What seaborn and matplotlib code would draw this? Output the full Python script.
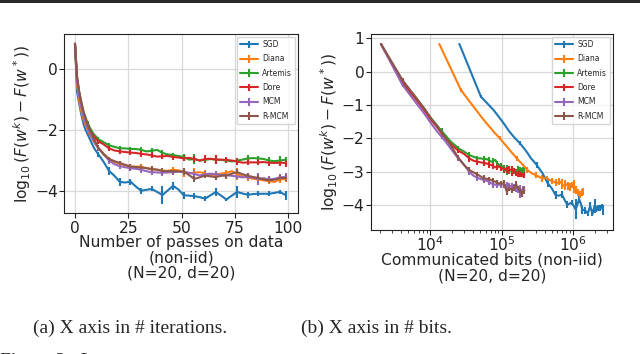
import matplotlib
matplotlib.use("Agg")
import matplotlib.pyplot as plt
import numpy as np
import seaborn as sns
from matplotlib.patches import Rectangle

sns.set_theme(style="ticks", rc={
    "axes.grid": True,
    "grid.color": "#d9d9d9",
    "grid.linewidth": 0.9,
    "axes.edgecolor": "#222222",
    "axes.linewidth": 0.8,
    "xtick.color": "#222222",
    "ytick.color": "#222222",
})
plt.rcParams["font.family"] = ["DejaVu Sans"]
plt.rcParams["mathtext.fontset"] = "dejavusans"

METHODS = ["SGD", "Diana", "Artemis", "Dore", "MCM", "R-MCM"]
COLORS = sns.color_palette("tab10", 6)

# passes on data where the loss was recorded
PASSES = [0, 1, 2, 3, 4, 5, 6, 7, 8, 9, 10, 11,
          13.5, 16, 18.5, 21, 23.5, 26, 28.5, 31, 33.5, 36, 38.5, 41,
          43.5, 46, 48.5, 51, 53.5, 56, 58.5, 61, 63.5, 66, 68.5, 71,
          73.5, 76, 78.5, 81, 83.5, 86, 88.5, 91, 93.5, 96, 99]
# passes that carry an error bar
ERR_AT = [1, 6, 11, 16, 21, 26, 31, 36, 41, 46, 51, 56, 61, 66, 71, 76,
          81, 86, 91, 96, 99]

# bits communicated per pass (non-iid, N=20, d=20)
BITS_SGD = 2.57e4
BITS_DIANA = 1.35e4
BITS_COMPRESSED = 2.07e3

LOSS_SGD = [0.83, -0.75, -1.15, -1.5, -1.8, -2.0, -2.15, -2.3, -2.45, -2.6, -2.7, -2.8,
            -3.05, -3.34, -3.5, -3.7, -3.72, -3.69, -3.85, -3.99, -3.96, -3.93, -4.03, -4.13,
            -3.98, -3.83, -3.95, -4.14, -4.15, -4.17, -4.2, -4.25, -4.14, -4.03, -4.15, -4.28,
            -4.15, -4.03, -4.08, -4.12, -4.1, -4.09, -4.09, -4.09, -4.06, -4.03, -4.14]
LOSS_DIANA = [0.83, -0.55, -1.05, -1.4, -1.65, -1.85, -2.0, -2.15, -2.28, -2.4, -2.5, -2.6,
              -2.78, -2.95, -3.05, -3.1, -3.15, -3.2, -3.2, -3.2, -3.25, -3.28, -3.3, -3.33,
              -3.34, -3.3, -3.32, -3.38, -3.42, -3.4, -3.38, -3.42, -3.49, -3.45, -3.43, -3.4,
              -3.35, -3.45, -3.52, -3.55, -3.6, -3.62, -3.65, -3.68, -3.7, -3.62, -3.6]
LOSS_ARTEMIS = [0.83, -0.3, -0.75, -1.1, -1.4, -1.6, -1.78, -1.92, -2.05, -2.15, -2.22, -2.3,
                -2.4, -2.5, -2.55, -2.6, -2.6, -2.62, -2.62, -2.65, -2.7, -2.68, -2.65, -2.75,
                -2.8, -2.82, -2.85, -2.88, -2.97, -2.95, -3.0, -2.98, -2.95, -2.97, -2.98, -3.0,
                -3.03, -3.0, -2.97, -2.93, -2.92, -2.93, -2.95, -3.0, -3.02, -3.0, -2.97]
LOSS_DORE = [0.83, -0.35, -0.8, -1.15, -1.45, -1.65, -1.85, -2.0, -2.12, -2.22, -2.3, -2.37,
             -2.47, -2.6, -2.67, -2.7, -2.72, -2.74, -2.75, -2.78, -2.8, -2.83, -2.87, -2.86,
             -2.85, -2.88, -2.9, -2.93, -2.91, -2.95, -3.0, -2.95, -2.94, -2.97, -2.97, -2.98,
             -3.0, -3.03, -3.07, -3.06, -3.06, -3.06, -3.05, -3.07, -3.08, -3.07, -3.08]
LOSS_MCM = [0.83, -0.4, -0.9, -1.25, -1.55, -1.78, -1.95, -2.1, -2.25, -2.38, -2.5, -2.6,
            -2.8, -3.0, -3.12, -3.18, -3.22, -3.25, -3.27, -3.3, -3.35, -3.38, -3.39, -3.4,
            -3.39, -3.38, -3.36, -3.38, -3.4, -3.44, -3.49, -3.45, -3.43, -3.45, -3.47, -3.48,
            -3.5, -3.52, -3.55, -3.54, -3.56, -3.6, -3.58, -3.62, -3.6, -3.55, -3.54]
LOSS_RMCM = [0.83, -0.25, -0.75, -1.1, -1.4, -1.62, -1.82, -2.0, -2.15, -2.3, -2.45, -2.58,
             -2.8, -2.95, -3.02, -3.08, -3.14, -3.2, -3.21, -3.23, -3.25, -3.28, -3.3, -3.34,
             -3.35, -3.35, -3.36, -3.36, -3.48, -3.6, -3.55, -3.49, -3.52, -3.54, -3.5, -3.49,
             -3.43, -3.38, -3.45, -3.5, -3.54, -3.57, -3.62, -3.65, -3.63, -3.58, -3.57]

ERR_SGD = [0.05, 0.06, 0.08, 0.12, 0.12, 0.1, 0.1, 0.08, 0.3, 0.12, 0.12,
           0.1, 0.08, 0.12, 0.06, 0.2, 0.1, 0.08, 0.08, 0.06, 0.15]
ERR_DIANA = [0.05, 0.06, 0.08, 0.08, 0.08, 0.1, 0.08, 0.1, 0.1, 0.1, 0.15,
             0.15, 0.12, 0.12, 0.1, 0.2, 0.12, 0.1, 0.1, 0.1, 0.1]
ERR_ARTEMIS = [0.05, 0.08, 0.08, 0.08, 0.08, 0.08, 0.08, 0.1, 0.08, 0.08, 0.08,
               0.15, 0.1, 0.15, 0.08, 0.08, 0.1, 0.08, 0.1, 0.15, 0.08]
ERR_DORE = [0.05, 0.08, 0.08, 0.1, 0.1, 0.08, 0.1, 0.1, 0.1, 0.1, 0.1,
            0.1, 0.12, 0.15, 0.1, 0.1, 0.1, 0.1, 0.1, 0.1, 0.12]
ERR_MCM = [0.05, 0.06, 0.08, 0.1, 0.1, 0.1, 0.1, 0.1, 0.1, 0.1, 0.1,
           0.12, 0.1, 0.12, 0.1, 0.1, 0.1, 0.2, 0.1, 0.12, 0.12]
ERR_RMCM = [0.05, 0.06, 0.08, 0.08, 0.08, 0.1, 0.08, 0.1, 0.1, 0.08, 0.1,
            0.1, 0.08, 0.1, 0.1, 0.1, 0.08, 0.08, 0.1, 0.1, 0.1]

LOSSES = [LOSS_SGD, LOSS_DIANA, LOSS_ARTEMIS, LOSS_DORE, LOSS_MCM, LOSS_RMCM]
ERRORS = [ERR_SGD, ERR_DIANA, ERR_ARTEMIS, ERR_DORE, ERR_MCM, ERR_RMCM]
BITS = [BITS_SGD, BITS_DIANA, BITS_COMPRESSED, BITS_COMPRESSED, BITS_COMPRESSED, BITS_COMPRESSED]

passes = np.array(PASSES, dtype=float)
err_mask = np.isin(passes, ERR_AT)

W, H = 640, 354
fig = plt.figure(figsize=(W / 100, H / 100), dpi=100)
ax1 = fig.add_axes([64.3 / W, 1 - 213.3 / H, 233.4 / W, 179 / H])
ax2 = fig.add_axes([370.7 / W, 1 - 230 / H, 242 / W, 195.7 / H])

FS = 11.2
ylab = r"$\log_{10}(F(w^k) - F(w^*))$"

for name, loss, err, bits, c in zip(METHODS, LOSSES, ERRORS, BITS, COLORS):
    yerr = np.zeros(len(passes))
    yerr[err_mask] = err
    kw = dict(yerr=yerr, errorevery=err_mask, color=c, lw=1.5, elinewidth=1.5, label=name)
    ax1.errorbar(passes, loss, **kw)
    ax2.errorbar((passes + 1) * bits, loss, **kw)

ax1.set_xlim(-5.0, 104.4)
ax1.set_ylim(-4.73, 1.14)
ax1.set_xticks([0, 25, 50, 75, 100])
ax1.set_yticks([-4, -2, 0])
ax1.set_xlabel("Number of passes on data\n(non-iid)\n(N=20, d=20)", fontsize=FS,
               labelpad=-1, linespacing=1.05)
ax1.set_ylabel(ylab, fontsize=FS)

ax2.set_xscale("log")
ax2.set_xlim(10 ** 3.173, 10 ** 6.55)
ax2.set_ylim(-4.75, 1.12)
ax2.set_yticks([-4, -3, -2, -1, 0, 1])
ax2.set_xlabel("Communicated bits (non-iid)\n(N=20, d=20)", fontsize=FS,
               labelpad=-1, linespacing=1.05)
ax2.set_ylabel(ylab, fontsize=FS)

for ax in (ax1, ax2):
    ax.tick_params(labelsize=FS, length=3.5, width=0.8, pad=2)
    ax.tick_params(axis="y", pad=1)
    ax.tick_params(which="minor", length=2, width=0.6)
    ax.legend(loc="upper right", fontsize=5.5, handlelength=2.3, labelspacing=0.7,
              borderpad=0.45, handletextpad=0.6, borderaxespad=0.3,
              frameon=True, fancybox=True, edgecolor="#cccccc", framealpha=0.8)
ax2.tick_params(axis="x", which="both", pad=0.5)

ax1.yaxis.set_label_coords(-0.135, 0.5)
ax2.yaxis.set_label_coords(-0.128, 0.5)

serif = ["Liberation Serif", "DejaVu Serif"]
fig.text(130 / W, 1 - 328 / H, "(a) X axis in # iterations.", ha="center", va="center",
         fontsize=14, family=serif)
fig.text(376 / W, 1 - 328 / H, "(b) X axis in # bits.", ha="center", va="center",
         fontsize=14, family=serif)
fig.text(0.0, 1 - 352.8 / H, "Figure 2:  L", ha="left", va="top", fontsize=14, family=serif)

fig.patches.append(Rectangle((0, 1 - 3.3 / H), 1, 3.3 / H, transform=fig.transFigure,
                             facecolor="#2a2a2a", edgecolor="none"))

fig.savefig("out.png", dpi=100, facecolor="white")
